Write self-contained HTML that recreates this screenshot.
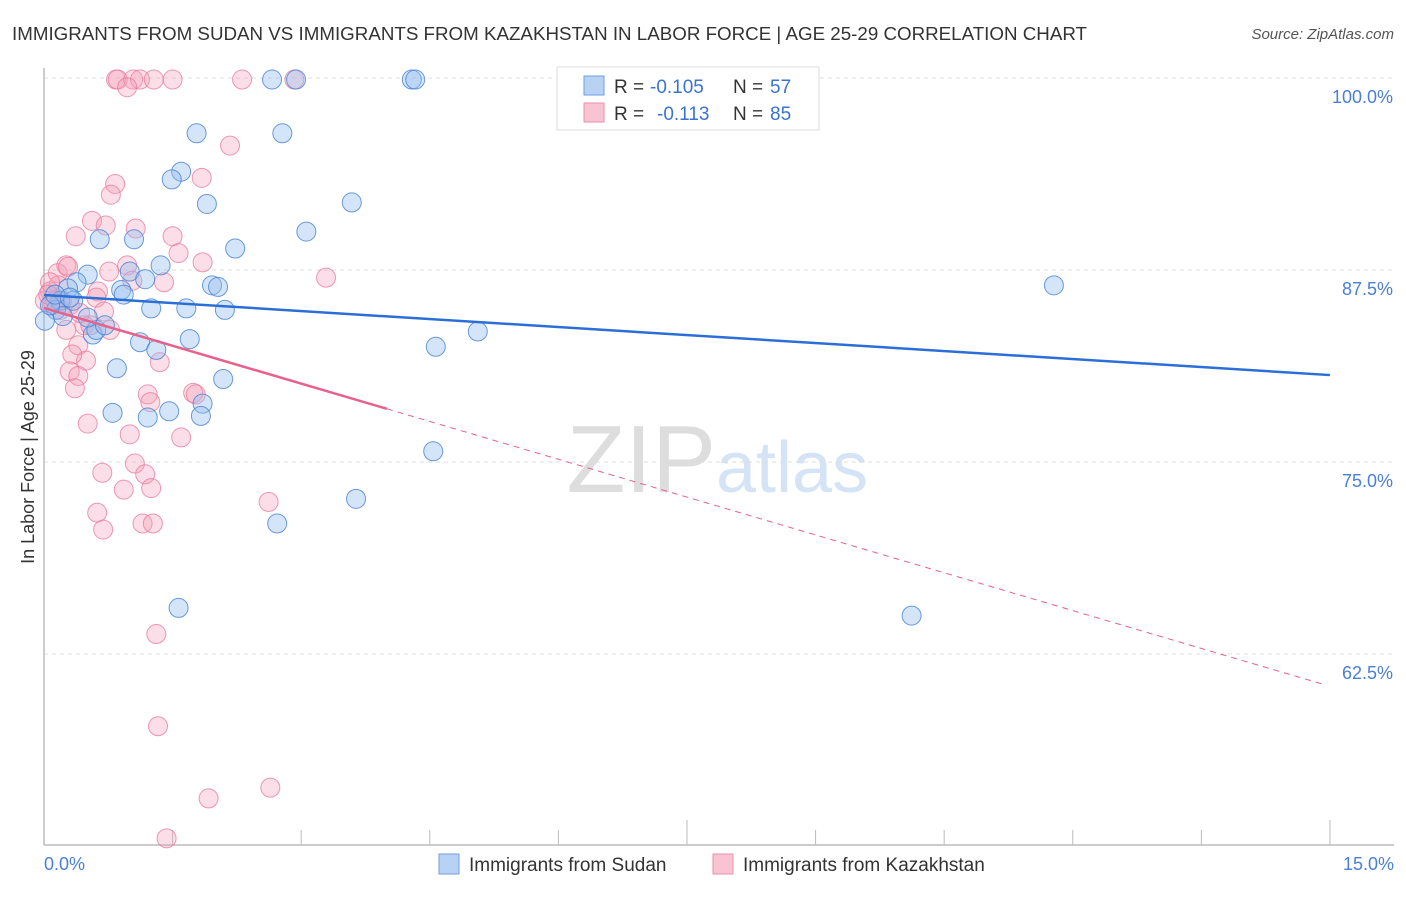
<!DOCTYPE html>
<html><head><meta charset="utf-8"><style>
body{margin:0;background:#fff;font-family:"Liberation Sans",sans-serif}
svg text{font-family:"Liberation Sans",sans-serif}
</style></head><body>
<svg width="1406" height="892" viewBox="0 0 1406 892">
<text x="12" y="40" font-size="18" fill="#333" textLength="1075" lengthAdjust="spacingAndGlyphs">IMMIGRANTS FROM SUDAN VS IMMIGRANTS FROM KAZAKHSTAN IN LABOR FORCE | AGE 25-29 CORRELATION CHART</text>
<text x="1394" y="39" font-size="15" fill="#555" font-style="italic" text-anchor="end">Source: ZipAtlas.com</text>
<text x="716" y="492" font-size="96" fill="#ddd" text-anchor="end" font-family="Liberation Serif">ZIP</text>
<text x="716" y="492" font-size="72" fill="#d4e3f5">atlas</text>
<g id="grid"></g>
<line x1="44" y1="68" x2="44" y2="845" stroke="#bbb" stroke-width="1.5"/>
<line x1="44" y1="845" x2="1394" y2="845" stroke="#bbb" stroke-width="1.5"/>
<g id="xticks"></g>
<text x="34" y="457" font-size="18" fill="#333" text-anchor="middle" transform="rotate(-90 34 457)">In Labor Force | Age 25-29</text>
<text x="44" y="870" font-size="18" fill="#4a7fd4">0.0%</text>
<text x="1394" y="870" font-size="18" fill="#4a7fd4" text-anchor="end">15.0%</text>
<g id="pts"></g>
<g id="lines"></g>
<g>
<rect x="557" y="67" width="262" height="63" fill="#fff" stroke="#ddd"/>
<rect x="584" y="76" width="20" height="19" fill="#b8d2f4" stroke="#6e9fe0"/>
<rect x="584" y="103" width="20" height="19" fill="#f8c3d3" stroke="#eb8fad"/>
<text x="614" y="93" font-size="19" fill="#333">R =</text>
<text x="650" y="93" font-size="19" fill="#3b73d1">-0.105</text>
<text x="733" y="93" font-size="19" fill="#333">N =</text>
<text x="770" y="93" font-size="19" fill="#3b73d1">57</text>
<text x="614" y="120" font-size="19" fill="#333">R =</text>
<text x="657" y="120" font-size="19" fill="#3b73d1">-0.113</text>
<text x="733" y="120" font-size="19" fill="#333">N =</text>
<text x="770" y="120" font-size="19" fill="#3b73d1">85</text>
</g>
<g>
<rect x="439" y="854" width="20" height="20" fill="#b8d2f4" stroke="#6e9fe0"/>
<text x="469" y="871" font-size="19" fill="#333">Immigrants from Sudan</text>
<rect x="713" y="854" width="20" height="20" fill="#f8c3d3" stroke="#eb8fad"/>
<text x="743" y="871" font-size="19" fill="#333">Immigrants from Kazakhstan</text>
</g>
</svg>
<script>
const yTicks=[100,87.5,75,62.5];
const yTickLabels=["100.0%","87.5%","75.0%","62.5%"];
const xTicks=[1.5,3,4.5,6,7.5,9,10.5,12,13.5,15];
const sudanX=[2.66,2.94,4.29,4.33,1.78,2.78,1.60,1.49,1.90,3.59,3.06,0.65,1.05,2.23,11.78,0.51,1.36,1.00,1.18,1.96,2.03,0.90,0.93,0.38,0.28,0.19,0.14,0.22,1.25,1.66,2.11,5.06,0.57,0.61,1.12,1.70,1.31,4.57,0.85,2.09,1.85,0.80,1.21,1.46,1.83,4.54,3.64,2.72,1.57,10.12,0.01,0.07,0.34,0.51,0.71,0.13,0.30];
const sudanY=[99.9,99.9,99.9,99.9,96.4,96.4,93.9,93.4,91.8,91.9,90.0,89.5,89.5,88.9,86.5,87.2,87.8,87.4,86.9,86.5,86.4,86.2,85.9,86.7,86.3,85.5,84.9,84.5,85.0,85.0,84.9,83.5,83.3,83.6,82.8,83.0,82.3,82.5,81.1,80.4,78.8,78.2,77.9,78.3,78.0,75.7,72.6,71.0,65.5,65.0,84.2,85.2,85.5,84.4,83.9,85.9,85.7];
const kazX=[0.84,0.86,1.04,1.12,1.28,1.50,2.31,2.92,0.97,2.17,1.84,0.83,0.78,0.56,0.72,1.07,0.37,1.50,1.57,1.85,3.29,0.16,0.26,0.28,0.97,0.76,1.03,0.63,1.40,0.17,0.07,0.01,0.09,0.13,0.21,0.30,0.61,0.70,0.77,0.47,0.54,0.26,0.40,0.49,0.33,0.30,0.40,1.35,0.36,1.21,1.24,1.74,1.77,0.51,1.00,1.60,1.06,0.68,1.18,0.93,1.25,2.62,0.62,1.15,1.27,0.69,1.31,1.33,1.92,2.64,1.43,0.07,0.05,0.19,0.42];
const kazY=[99.9,99.9,99.9,99.9,99.9,99.9,99.9,99.9,99.4,95.6,93.5,93.1,92.4,90.7,90.4,90.2,89.7,89.7,88.6,88.0,87.0,87.3,87.8,87.7,87.8,87.4,86.8,86.1,86.7,86.5,86.1,85.5,85.2,85.5,85.5,85.2,85.7,84.8,83.6,83.9,83.9,83.6,82.6,81.6,82.0,80.9,80.6,81.5,79.8,79.4,78.9,79.5,79.4,77.5,76.8,76.6,74.9,74.3,74.2,73.2,73.3,72.4,71.7,71.0,71.0,70.6,63.8,57.8,53.1,53.8,50.5,86.7,85.9,84.9,84.7];
const sudanLine=[85.87,80.66];
const kazLine=[85.03,60.4];
const kazSolidEnd=4.0;
const NS='http://www.w3.org/2000/svg';
const sx=v=>44+v*85.73, sy=v=>78+(100-v)*15.36;
function mk(t,a,p){const e=document.createElementNS(NS,t);for(const k in a)e.setAttribute(k,a[k]);p.appendChild(e);return e;}
const grid=document.getElementById('grid');
yTicks.forEach((t,i)=>{
 const l=mk('line',{x1:44,x2:1394,y1:sy(t),y2:sy(t),stroke:'#ddd','stroke-dasharray':'4 4'},grid);
 
 
 const tx=mk('text',{x:1393,y:sy(t)+25,'font-size':18,fill:'#4a7fd4','text-anchor':'end'},grid);
 tx.textContent=yTickLabels[i];
 
 
});
const xt=document.getElementById('xticks');
xTicks.forEach((t,i)=>{
 const l=mk('line',{x1:sx(t),x2:sx(t),y1:(i%5==4)?820:830,y2:845,stroke:'#bbb'},xt);
 
 
});
const pts=document.getElementById('pts');
kazX.forEach((x,i)=>{
 const c=mk('circle',{cx:sx(x),cy:sy(kazY[i]),r:9.5,fill:'rgba(244,160,186,0.35)',stroke:'rgba(232,120,155,0.75)','stroke-width':1},pts);
 
 
});
sudanX.forEach((x,i)=>{
 const c=mk('circle',{cx:sx(x),cy:sy(sudanY[i]),r:9.5,fill:'rgba(150,190,240,0.4)',stroke:'rgba(70,130,215,0.8)','stroke-width':1},pts);
 
 
});
const ln=document.getElementById('lines');
const b=mk('line',{x1:sx(0),y1:sy(sudanLine[0]),x2:sx(15),y2:sy(sudanLine[1]),stroke:'#2b6fd6','stroke-width':2.5},ln);


const kAt=x=>kazLine[0]+(kazLine[1]-kazLine[0])*x/15;
const p1=mk('line',{x1:sx(0),y1:sy(kazLine[0]),x2:sx(kazSolidEnd),y2:sy(kAt(kazSolidEnd)),stroke:'#e8608c','stroke-width':2.5},ln);


const p2=mk('line',{x1:sx(kazSolidEnd),y1:sy(kAt(kazSolidEnd)),x2:sx(14.95),y2:sy(kAt(14.95)),stroke:'#e8608c','stroke-width':1,'stroke-dasharray':'6 5'},ln);


</script>
</body></html>
